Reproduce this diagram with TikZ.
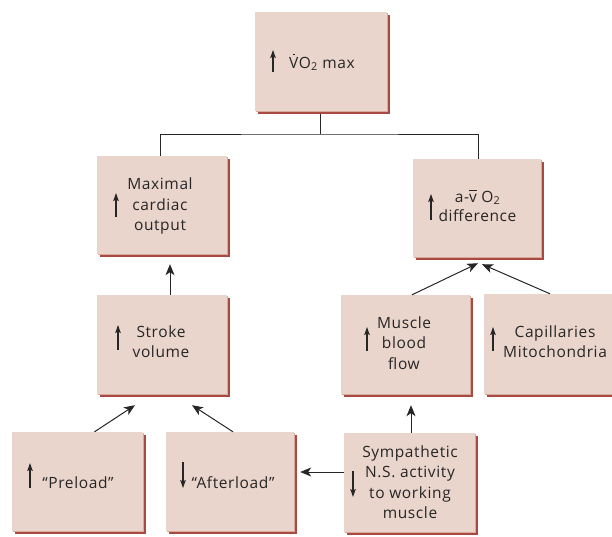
\documentclass[tikz,border=0pt]{standalone}
\usepackage{fontspec}
\setmainfont{Open Sans}[LetterSpace=4]
\usetikzlibrary{arrows.meta,shadows,calc}

\definecolor{boxfill}{HTML}{EAD5CC}
\definecolor{shadowmid}{HTML}{D9A99B}
\definecolor{shadowdark}{HTML}{A94A42}
\definecolor{ink}{HTML}{262626}

% V with a dot above (rate symbol)
\newcommand\Vdotted{\leavevmode\setbox0\hbox{V}\rlap{\hbox to\wd0{\hss\raisebox{\dimexpr\ht0+1.6pt}{\rule{1.8pt}{1.8pt}}\hss}}V}
% v with a bar above (mixed venous)
\newcommand\vbarred{\leavevmode\setbox0\hbox{v}\rlap{\raisebox{\dimexpr\ht0+2.6pt}{\rule{\wd0}{0.9pt}}}v}
% centred lines whose baseline is the first line
\newcommand\stacked[1]{\begin{tabular}[t]{@{}c@{}}#1\end{tabular}}

\tikzset{
  x=1pt, y=1pt,
  box/.style={fill=boxfill, draw=none, inner sep=0pt,
    general shadow={fill=shadowdark, shadow xshift=3pt, shadow yshift=-3pt},
    general shadow={fill=shadowmid, shadow xshift=1.4pt, shadow yshift=-1.4pt}},
  txt/.style={anchor=base, inner sep=0pt, text=ink,
    font=\fontsize{15.5}{20.5}\selectfont},
  conn/.style={draw=ink, line width=1pt, -{Stealth[length=11pt,width=9pt,inset=3pt]}},
  tree/.style={draw=ink, line width=1pt},
  trend/.style={draw=ink, line width=1.1pt, -{Stealth[length=8pt,width=5.5pt,inset=1.5pt]}},
}

\begin{document}
\begin{tikzpicture}
\useasboundingbox (0,0) rectangle (612,-536);

% boxes
\node[box, minimum width=132pt, minimum height=99pt] (vo2) at (321,-61.5) {};
\node[box, minimum width=130pt, minimum height=98pt] (cardiac) at (162,-205) {};
\node[box, minimum width=128pt, minimum height=98pt] (avo2) at (477,-208) {};
\node[box, minimum width=130pt, minimum height=99pt] (stroke) at (162,-344.5) {};
\node[box, minimum width=129pt, minimum height=99pt] (flow) at (405.5,-344.5) {};
\node[box, minimum width=128pt, minimum height=100pt] (capil) at (548,-344) {};
\node[box, minimum width=131pt, minimum height=99pt] (preload) at (77.5,-481.5) {};
\node[box, minimum width=128pt, minimum height=99pt] (afterload) at (230,-481.5) {};
\node[box, minimum width=131pt, minimum height=99pt] (symp) at (409.5,-482.5) {};

% labels
\node[txt] (vo2t) at (322,-68) {\Vdotted O\textsubscript{2} max};
\node[txt] (cardiact) at (160,-189.5) {\stacked{Maximal\\cardiac\\output}};
\node[txt] (avo2t) at (477.5,-202) {\stacked{a-\vbarred{} O\textsubscript{2}\\[-1.5pt]difference}};
\node[txt] (stroket) at (161,-337) {\stacked{Stroke\\volume}};
\node[txt] (flowt) at (404,-328) {\stacked{Muscle\\blood\\flow}};
\node[txt] (capilt) at (555,-337) {\stacked{Capillaries\\Mitochondria}};
\node[txt] (preloadt) at (78,-488) {“Preload”};
\node[txt] (afterloadt) at (233,-488) {“Afterload”};
\node[txt] (sympt) at (410,-457) {\stacked{Sympathetic\\N.S. activity\\to working\\muscle}};

% increase / decrease marks
\draw[trend] (273,-72) -- (273,-50);
\draw[trend] (116,-217) -- (116,-193);
\draw[trend] (431,-220) -- (431,-194);
\draw[trend] (118,-350) -- (118,-325);
\draw[trend] (367,-351) -- (367,-327);
\draw[trend] (493,-351) -- (493,-327);
\draw[trend] (30,-488) -- (30,-463);
\draw[trend] (183,-462) -- (183,-488);
\draw[trend] (353,-471) -- (353,-497);

% branching line from the top box
\coordinate (junction) at (320,-134);
\draw[tree] ([xshift=-1pt,yshift=-3pt]vo2.south) -- (junction);
\draw[tree] ([xshift=-2pt]cardiac.north) |- (junction) -| ([xshift=1pt]avo2.north);

% arrows
\draw[conn] ([xshift=8pt]stroke.north) -- ([xshift=8pt,yshift=-10pt]cardiac.south);
\draw[conn] ([xshift=17pt]preload.north) -- ([xshift=-27pt,yshift=-11pt]stroke.south);
\draw[conn] ([xshift=3pt]afterload.north) -- ([xshift=30pt,yshift=-11pt]stroke.south);
\draw[conn] ([xshift=6.5pt]flow.north) -- ([xshift=1pt,yshift=-6pt]avo2.south);
\draw[conn] ([xshift=2pt]capil.north) -- ([xshift=5pt,yshift=-7pt]avo2.south);
\draw[conn] ([xshift=1.5pt]symp.north) -- ([xshift=5.5pt,yshift=-11pt]flow.south);
\draw[conn, shorten >=6pt] ([yshift=10.5pt]symp.west) -- ([yshift=10.5pt]symp.west -| afterload.east);
\end{tikzpicture}
\end{document}
